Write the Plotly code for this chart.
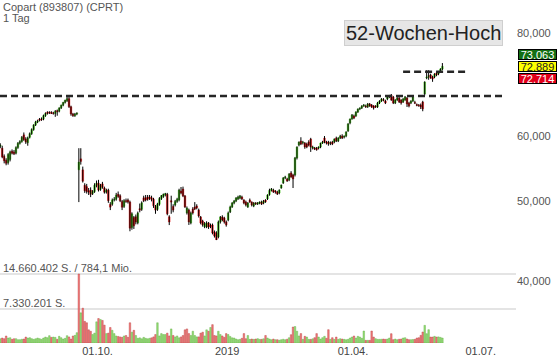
import numpy as np
import pandas as pd
import plotly.graph_objects as go

# ---------------- data ----------------
title_text = "Copart (893807) (CPRT)"
interval_text = "1 Tag"
badge_text = "52-Wochen-Hoch"
first_day = "2018-07-23"

open_ = [
    58.3, 58.0, 56.7, 56.1, 55.7, 56.2, 57.5, 57.4, 57.2, 58.1,
    58.8, 59.1, 60.2, 59.5, 58.9, 59.8, 60.4, 61.1, 61.9, 62.4,
    62.9, 62.9, 62.9, 63.5, 64.1, 64.1, 64.1, 64.0, 63.9, 64.4,
    64.3, 64.9, 65.4, 65.9, 66.2, 66.6, 65.1, 63.8, 63.5, 63.8,
    54.6, 56.3, 54.6, 52.3, 52.1, 51.5, 51.6, 51.1, 51.4, 52.3,
    52.6, 51.7, 52.5, 51.9, 51.3, 51.6, 49.6, 49.6, 50.2, 50.3,
    51.0, 50.8, 50.0, 49.3, 50.1, 50.2, 49.9, 46.5, 47.8, 47.9,
    47.1, 49.0, 48.9, 50.5, 50.5, 50.6, 50.6, 50.5, 50.3, 49.3,
    48.9, 49.6, 50.4, 50.7, 50.9, 51.0, 47.9, 50.1, 49.3, 49.5,
    50.0, 50.2, 51.47, 51.76, 50.76, 48.41, 48.81, 47.08, 48.95, 49.22,
    49.36, 48.81, 47.87, 47.34, 46.6, 46.56, 47.08, 46.8, 46.82, 45.9,
    45.79, 45.28, 47.21, 47.87, 47.74, 47.21, 47.47, 48.54, 49.22, 49.77,
    50.05, 50.33, 50.47, 50.61, 50.19, 49.91, 49.22, 50.19, 49.91, 49.36,
    49.77, 49.64, 49.77, 49.91, 49.77, 50.19, 50.33, 50.95, 51.55, 51.61,
    51.47, 51.33, 51.18, 51.90, 52.63, 53.38, 53.23, 53.07, 54.13, 53.83,
    53.83, 56.44, 58.51, 59.17, 58.9, 58.84, 58.68, 59.01, 59.50, 58.03,
    58.03, 58.03, 58.03, 58.19, 58.84, 59.67, 59.01, 59.01, 58.8, 59.01,
    59.01, 59.67, 59.17, 59.67, 60.0, 59.83, 60.0, 60.86, 62.23, 62.93,
    63.45, 63.45, 64.16, 64.71, 64.89, 65.25, 65.25, 65.07, 65.61, 65.43,
    65.25, 65.25, 65.07, 65.79, 66.16, 66.4, 66.16, 66.54, 66.91, 67.28,
    66.91, 65.79, 66.34, 66.72, 66.34, 65.98, 66.34, 66.72, 65.79, 65.79,
    66.16, 65.9, 65.5, 65.4, 65.43, 65.98, 67.47, 70.55, 70.85, 71.14,
    70.75, 70.75, 71.54, 71.34, 71.74, 72.33,
]
high = [
    58.8, 58.4, 57.0, 56.4, 57.2, 57.6, 57.8, 57.7, 58.3, 59.0,
    59.3, 60.0, 60.6, 59.8, 59.9, 60.6, 61.3, 62.0, 62.6, 62.8,
    63.1, 63.2, 63.7, 64.1, 64.3, 64.3, 64.3, 64.2, 64.5, 64.6,
    65.0, 65.5, 66.0, 66.4, 67.0, 67.1, 65.3, 64.0, 64.0, 64.1,
    58.0, 58.0, 55.1, 52.6, 52.5, 51.9, 52.0, 51.6, 52.6, 53.0,
    53.1, 52.5, 52.8, 52.1, 51.8, 51.8, 49.9, 50.4, 50.6, 51.2,
    51.4, 51.0, 50.2, 50.3, 50.4, 50.4, 50.1, 48.5, 48.0, 48.2,
    48.6, 49.7, 50.0, 50.8, 50.9, 50.9, 50.9, 50.8, 50.5, 49.5,
    49.8, 50.6, 50.9, 51.1, 51.2, 51.2, 48.1, 50.8, 49.6, 50.2,
    50.5, 51.8, 52.05, 52.1, 50.9, 49.3, 49.0, 48.6, 49.2, 49.9,
    49.6, 49.0, 48.0, 47.5, 47.2, 47.3, 47.2, 47.0, 47.0, 46.1,
    46.0, 47.4, 48.0, 48.1, 47.9, 47.4, 48.6, 49.4, 49.9, 50.2,
    50.6, 50.8, 50.9, 50.8, 50.3, 50.1, 49.9, 50.4, 50.0, 49.9,
    49.9, 49.9, 50.0, 50.1, 50.2, 50.3, 51.0, 51.8, 51.9, 51.8,
    51.6, 51.5, 51.7, 52.4, 53.5, 53.7, 53.4, 54.1, 54.4, 54.0,
    56.6, 58.3, 59.1, 59.8, 59.2, 59.0, 58.9, 59.3, 59.7, 58.4,
    58.2, 58.2, 58.3, 58.9, 59.2, 60.0, 59.2, 59.2, 59.1, 59.2,
    59.6, 59.9, 59.8, 60.2, 60.3, 60.1, 60.8, 62.2, 63.0, 63.8,
    63.7, 64.3, 64.8, 65.0, 65.4, 65.6, 65.5, 65.8, 65.8, 65.6,
    65.4, 65.4, 66.0, 66.3, 66.7, 66.7, 66.4, 67.1, 67.3, 67.47,
    67.1, 66.5, 66.9, 66.9, 66.5, 66.7, 67.1, 66.9, 66.0, 66.3,
    67.1, 66.2, 65.7, 65.6, 65.7, 66.2, 69.9, 72.1, 72.1, 71.4,
    71.0, 71.5, 71.8, 71.9, 72.5, 73.55,
]
low = [
    58.0, 56.4, 55.6, 55.3, 55.4, 55.9, 57.0, 56.9, 57.0, 57.9,
    58.6, 58.9, 59.2, 58.7, 58.4, 59.6, 60.2, 60.9, 61.7, 62.2,
    62.5, 62.6, 62.7, 63.3, 63.7, 63.8, 63.8, 63.7, 63.3, 63.5,
    64.1, 64.7, 65.2, 65.7, 66.0, 64.9, 63.5, 63.3, 63.3, 63.6,
    49.9, 55.4, 52.7, 51.2, 51.1, 50.9, 50.6, 50.9, 51.2, 52.0,
    51.4, 51.5, 51.8, 51.1, 51.1, 49.8, 48.8, 49.4, 50.0, 50.1,
    50.5, 49.9, 48.8, 49.1, 49.8, 49.7, 46.0, 46.2, 46.3, 46.9,
    46.9, 48.5, 48.7, 49.9, 50.0, 50.1, 50.2, 50.0, 49.1, 48.3,
    48.7, 49.4, 50.2, 50.5, 50.7, 48.1, 46.8, 48.3, 48.5, 49.3,
    49.8, 50.0, 51.0, 50.6, 49.1, 48.2, 46.82, 46.9, 48.2, 48.8,
    48.9, 47.8, 46.9, 46.6, 46.4, 46.4, 46.3, 46.4, 45.6, 45.2,
    44.54, 45.1, 47.0, 47.3, 47.0, 46.6, 47.3, 48.4, 49.1, 49.6,
    49.9, 50.2, 50.3, 50.2, 49.6, 49.3, 49.1, 49.8, 49.3, 49.2,
    49.5, 49.5, 49.6, 49.5, 49.6, 49.8, 50.2, 50.8, 51.4, 51.2,
    51.1, 50.9, 51.0, 51.8, 52.5, 53.2, 52.8, 52.9, 53.4, 51.9,
    53.6, 56.2, 58.3, 58.5, 58.6, 57.9, 58.0, 58.3, 57.4, 57.8,
    57.7, 57.6, 57.8, 58.0, 58.7, 58.8, 58.6, 58.4, 58.5, 58.5,
    58.8, 59.0, 59.0, 59.5, 59.5, 59.6, 59.8, 60.7, 62.0, 62.8,
    62.9, 63.3, 64.0, 64.5, 64.7, 65.1, 64.9, 64.9, 65.1, 64.9,
    64.6, 64.9, 64.9, 65.6, 66.0, 66.1, 65.6, 66.3, 66.7, 66.2,
    65.6, 65.6, 66.2, 65.8, 65.5, 65.8, 66.2, 65.07, 65.0, 65.6,
    66.0, 65.6, 65.2, 65.1, 64.7, 64.3, 67.2, 70.3, 70.2, 70.4,
    69.8, 70.5, 70.9, 71.1, 71.6, 72.1,
]
close = [
    58.5, 56.6, 56.0, 55.6, 57.0, 57.4, 57.2, 57.1, 58.1, 58.8,
    59.1, 59.8, 59.4, 59.0, 59.7, 60.4, 61.1, 61.9, 62.4, 62.6,
    62.7, 62.8, 63.5, 63.9, 63.9, 64.0, 63.9, 63.9, 64.3, 64.2,
    64.9, 65.4, 65.9, 66.3, 66.6, 65.1, 63.8, 63.5, 63.8, 64.0,
    55.8, 55.9, 52.9, 51.5, 51.4, 51.3, 51.0, 51.4, 52.3, 52.6,
    51.6, 52.3, 52.0, 51.3, 51.6, 50.1, 49.2, 50.2, 50.3, 50.9,
    50.7, 50.1, 49.2, 50.1, 50.0, 49.9, 46.4, 48.3, 46.7, 47.2,
    48.4, 48.8, 49.8, 50.1, 50.2, 50.3, 50.4, 50.3, 49.4, 48.8,
    49.6, 50.4, 50.8, 51.0, 51.1, 48.3, 47.2, 49.9, 48.8, 50.0,
    50.3, 51.6, 51.18, 50.76, 49.22, 49.08, 47.21, 48.41, 48.41, 48.95,
    49.1, 48.0, 47.08, 46.82, 47.0, 47.08, 46.56, 46.6, 45.79, 45.4,
    44.91, 47.21, 47.87, 47.47, 47.21, 46.82, 48.41, 49.22, 49.77, 50.05,
    50.47, 50.61, 50.76, 50.33, 49.77, 49.5, 49.77, 49.91, 49.5, 49.77,
    49.64, 49.8, 49.91, 49.64, 50.05, 49.95, 50.9, 51.55, 51.76, 51.33,
    51.33, 51.04, 51.61, 52.34, 53.38, 53.53, 52.93, 53.98, 53.53, 53.23,
    56.44, 58.19, 59.01, 58.68, 59.0, 58.19, 58.19, 58.51, 58.19, 58.19,
    57.87, 57.75, 58.19, 58.84, 59.01, 59.01, 58.84, 58.68, 58.9, 58.68,
    59.50, 59.17, 59.67, 60.0, 59.67, 60.0, 60.69, 62.06, 62.93, 63.63,
    63.10, 64.16, 64.71, 64.89, 65.25, 65.43, 65.07, 65.61, 65.25, 65.07,
    64.89, 65.07, 65.79, 66.16, 66.54, 66.3, 65.79, 66.91, 67.05, 66.34,
    65.79, 66.34, 66.72, 65.98, 65.79, 66.54, 66.91, 65.61, 65.25, 66.16,
    66.91, 65.75, 65.35, 65.3, 65.07, 64.71, 69.77, 70.75, 71.0, 70.55,
    70.36, 71.34, 71.14, 71.74, 72.33, 72.889,
]
volume_mio = [
    0.9, 1.06, 0.92, 1.49, 1.06, 1.13, 0.78, 0.92, 0.92, 0.71,
    0.71, 0.8, 0.85, 1.27, 1.06, 1.13, 0.92, 0.78, 0.9, 1.06,
    0.92, 0.78, 1.06, 1.27, 1.13, 1.56, 1.2, 1.27, 1.2, 0.78,
    1.42, 1.13, 0.85, 0.99, 1.56, 1.3, 0.85, 1.49, 1.63, 2.2,
    14.66, 6.4, 7.4, 4.6, 4.3, 2.8, 2.5, 1.8, 2.1, 4.5,
    5.2, 5.0, 4.8, 3.8, 2.0, 2.1, 3.3, 2.7, 2.0, 1.5,
    1.4, 1.3, 1.2, 1.5, 1.6, 1.2, 4.3, 2.3, 2.7, 1.6,
    1.0, 1.1, 0.9, 1.2, 1.0, 0.9, 1.0, 1.1, 1.3, 1.8,
    4.3, 1.5, 2.0, 1.8, 1.8, 2.1, 1.5, 3.0, 1.6, 1.3,
    1.5, 1.1, 1.3, 1.6, 2.8, 3.0, 2.0, 1.6, 2.5, 1.6,
    1.3, 1.3, 2.1, 2.3, 1.5, 2.8, 2.5, 3.3, 3.9, 1.6,
    1.5, 2.5, 1.8, 1.5, 1.2, 2.0, 1.8, 1.4, 1.1, 1.06,
    0.85, 0.7, 0.78, 1.0, 2.0, 0.92, 1.6, 0.78, 0.85, 0.78,
    0.85, 0.92, 0.78, 0.78, 0.9, 1.6, 1.06, 0.85, 0.7, 0.85,
    0.7, 0.7, 0.6, 0.7, 0.8, 0.7, 0.8, 1.13, 1.77, 3.4,
    3.5, 2.5, 1.5, 2.0, 0.78, 1.42, 1.27, 0.78, 0.78, 0.9,
    1.13, 2.0, 1.27, 0.85, 1.13, 1.42, 1.0, 2.83, 0.78, 1.13,
    0.78, 1.27, 0.78, 0.92, 0.85, 0.78, 0.7, 0.78, 1.06, 1.27,
    1.49, 1.06, 1.42, 1.27, 1.0, 2.55, 0.57, 0.57, 0.57, 2.55,
    1.27, 0.92, 0.78, 0.78, 0.8, 0.85, 0.78, 0.85, 1.06, 1.98,
    0.71, 0.85, 0.71, 0.8, 0.85, 1.06, 1.13, 0.85, 0.71, 0.71,
    0.75, 0.78, 1.06, 1.13, 1.63, 2.34, 3.75, 1.98, 2.83, 1.27,
    1.27, 1.42, 1.27, 1.3, 1.2, 1.06,
]

prior_high = 67.1      # old 52-week high (dashed)
recent_high = 71.8     # new 52-week high (dashed)
quote_ask = "73,063"
quote_last = "72,889"
quote_last_value = 72.889
quote_bid = "72,714"

vol_max = 14.660402
vol_half = 7.330201
vol_max_label = "14.660.402 S. / 784,1 Mio."
vol_half_label = "7.330.201 S."

tick_dates = ["2018-10-01", "2019-01-01", "2019-04-01", "2019-07-01"]
tick_labels = ["01.10.", "2019", "01.04.", "01.07."]
price_ticks = [40, 50, 60, 80]
price_tick_labels = ["40,000", "50,000", "60,000", "80,000"]

# ---------------- styling ----------------
FONT = "Liberation Sans, Arial, sans-serif"
UP = "#3dbb14"
DOWN = "#dd0a0a"
VOL_UP = "#95de76"
VOL_DOWN = "#f27a7a"
DAY_MS = 86400000

half_day = pd.Timedelta(hours=12)
days = pd.bdate_range(first_day, periods=len(close)) + half_day
axis_days = pd.bdate_range(first_day, periods=270) + half_day
x_start = pd.Timestamp(first_day) + pd.Timedelta(hours=9)
x_end = pd.Timestamp("2019-07-24 23:00")

is_up = [c >= o for o, c in zip(open_, close)]
body_colors = [UP if u else DOWN for u in is_up]
prev_close = [open_[0]] + close[:-1]
vol_up = [c >= p for p, c in zip(prev_close, close)]
vol_colors = [VOL_UP if u else VOL_DOWN for u in vol_up]
vol_line = ["#5aa83c" if u else "#b23a3a" for u in vol_up]

wick_x, wick_y = [], []
for d, h, l in zip(days, high, low):
    wick_x += [d, d, None]
    wick_y += [l, h, None]

fig = go.Figure()

# volume
fig.add_trace(go.Bar(
    x=days, y=volume_mio, yaxis="y2",
    marker=dict(color=vol_colors, line=dict(color=vol_line, width=0.4)),
    width=0.8 * DAY_MS, hoverinfo="skip",
))

# wicks
fig.add_trace(go.Scatter(
    x=wick_x, y=wick_y, mode="lines",
    line=dict(color="#000000", width=1), hoverinfo="skip",
))

# candle bodies
fig.add_trace(go.Bar(
    x=days, base=open_, y=[c - o for o, c in zip(open_, close)],
    marker=dict(color=body_colors, line=dict(color=body_colors, width=0.4)),
    width=0.85 * DAY_MS, hoverinfo="skip",
))

# dashed 52-week-high lines
fig.add_trace(go.Scatter(
    x=[x_start, axis_days[257]], y=[prior_high, prior_high], mode="lines",
    line=dict(color="#262626", width=2.6, dash="7px,4px"), hoverinfo="skip",
))
fig.add_trace(go.Scatter(
    x=[axis_days[205], axis_days[238]], y=[recent_high, recent_high], mode="lines",
    line=dict(color="#262626", width=2.6, dash="7px,4px"), hoverinfo="skip",
))

PMIN, PMAX = 33.68, 87.7

fig.update_layout(
    width=560, height=363,
    margin=dict(l=0, r=44, t=0, b=20),
    paper_bgcolor="white", plot_bgcolor="white",
    showlegend=False, barmode="overlay", bargap=0,
    font=dict(family=FONT, size=11, color="#555555"),
    xaxis=dict(
        type="date", range=[x_start, x_end],
        rangebreaks=[dict(bounds=["sat", "mon"])],
        tickvals=tick_dates, ticktext=tick_labels,
        showgrid=False, zeroline=False, showline=False, ticks="",
        tickfont=dict(size=11, color="#444444"),
        rangeslider=dict(visible=False),
    ),
    yaxis=dict(
        type="log", domain=[0, 1], side="right",
        range=[np.log10(PMIN), np.log10(PMAX)],
        tickvals=price_ticks, ticktext=price_tick_labels,
        showgrid=False, zeroline=False, showline=False, ticks="",
        tickfont=dict(size=11, color="#555555"),
    ),
    yaxis2=dict(
        domain=[0, 0.3], anchor="x", range=[0, 21.86],
        tickvals=[vol_half, vol_max], showticklabels=False,
        showgrid=True, gridcolor="#e4e4e4", gridwidth=2,
        zeroline=False, showline=False, ticks="",
    ),
)

ann = []
ann.append(dict(text=title_text, xref="paper", yref="paper", x=0, y=1,
                xanchor="left", yanchor="top", xshift=1, yshift=1, showarrow=False,
                font=dict(size=11, color="#555555")))
ann.append(dict(text=interval_text, xref="paper", yref="paper", x=0, y=1,
                xanchor="left", yanchor="top", xshift=1, yshift=-10, showarrow=False,
                font=dict(size=11, color="#555555")))
ann.append(dict(text=badge_text, xref="paper", yref="paper", x=423 / 516, y=1 - 33 / 343,
                xanchor="center", yanchor="middle", showarrow=False,
                bgcolor="#e6e6e6", bordercolor="#cfcfcf", borderwidth=1, borderpad=1,
                font=dict(size=20, color="#222222")))
ann.append(dict(text=vol_max_label, xref="paper", yref="y2", x=0, y=vol_max,
                xanchor="left", yanchor="bottom", xshift=1, yshift=-2, showarrow=False,
                font=dict(size=11, color="#555555")))
ann.append(dict(text=vol_half_label, xref="paper", yref="y2", x=0, y=vol_half,
                xanchor="left", yanchor="bottom", xshift=1, yshift=-2, showarrow=False,
                font=dict(size=11, color="#555555")))
for txt, bg, fg, shift in [(quote_ask, "#136f13", "white", 12),
                           (quote_last, "#ffff00", "#222222", 0),
                           (quote_bid, "#e2001a", "white", -12)]:
    ann.append(dict(text=txt, xref="paper", yref="y", x=1, y=np.log10(quote_last_value),
                    xanchor="left", yanchor="middle", xshift=2, yshift=shift,
                    showarrow=False, bgcolor=bg, bordercolor="#000000", borderwidth=1,
                    borderpad=0, width=37, height=9,
                    font=dict(size=11, color=fg)))
fig.update_layout(annotations=ann)

fig.write_html("out.html",
               config={"displayModeBar": False, "staticPlot": True},
               post_script="document.body.style.margin='0px';document.body.style.padding='0px';")
